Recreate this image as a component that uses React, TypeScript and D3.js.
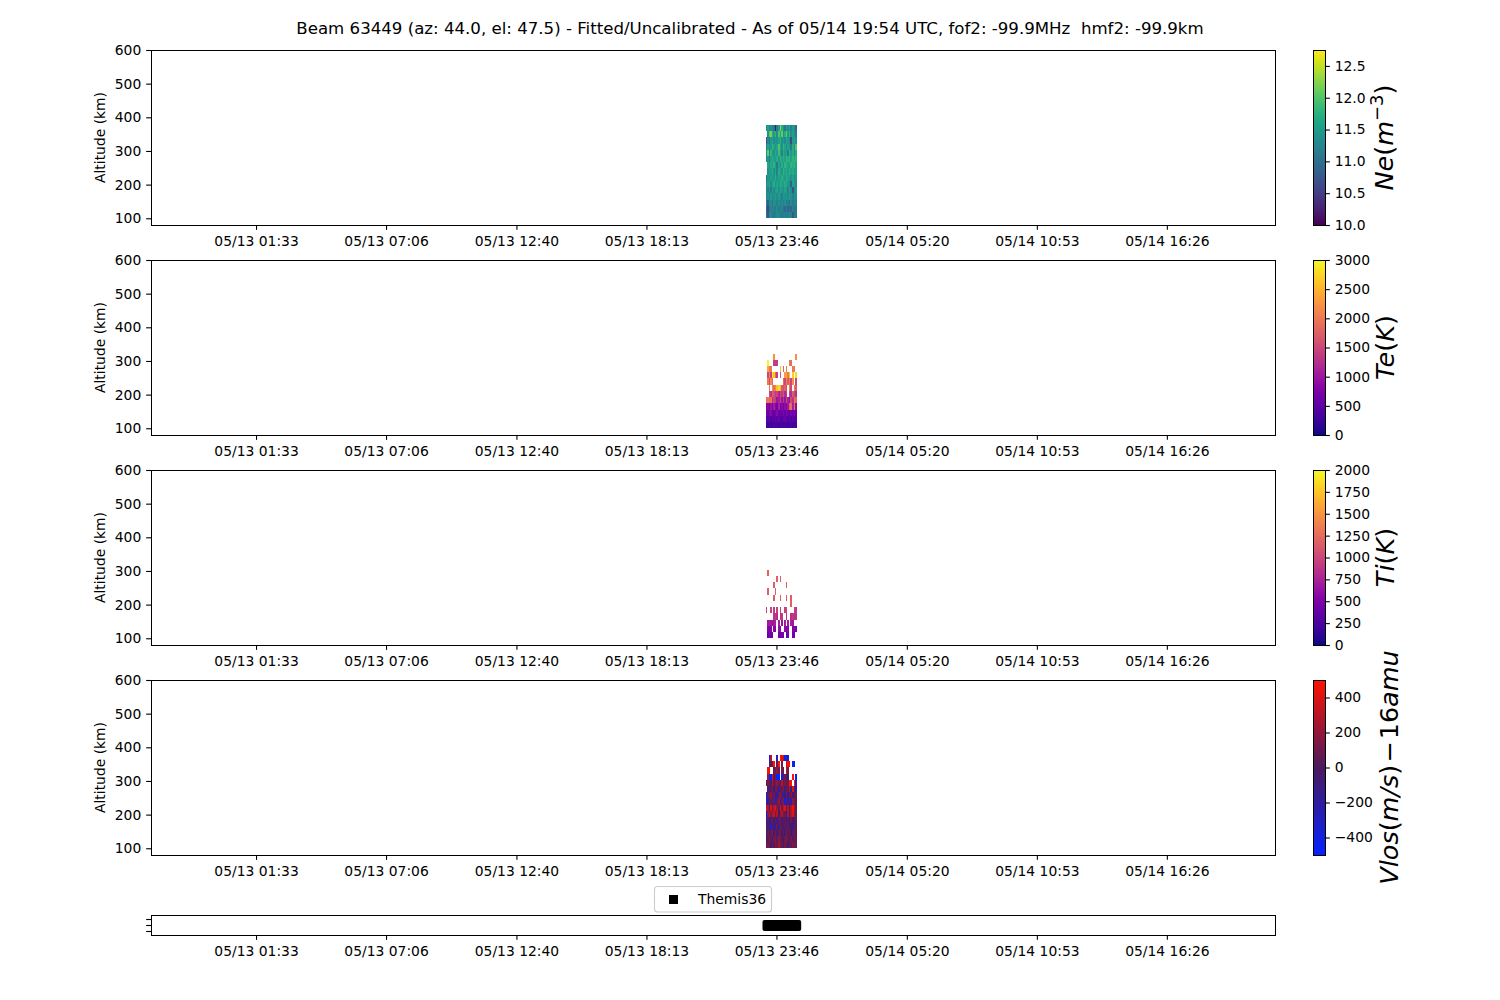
import { useEffect, useRef } from 'react';
import * as d3 from 'd3';

const _ = null;

const title = 'Beam 63449 (az: 44.0, el: 47.5) - Fitted/Uncalibrated - As of 05/14 19:54 UTC, fof2: -99.9MHz  hmf2: -99.9km';

const timeStart = '2021-05-12T21:04:00Z';
const timeEnd = '2021-05-14T21:03:00Z';
const timeTicks = [
    '2021-05-13T01:33:00Z', '2021-05-13T07:06:00Z', '2021-05-13T12:40:00Z', '2021-05-13T18:13:00Z',
    '2021-05-13T23:46:00Z', '2021-05-14T05:20:00Z', '2021-05-14T10:53:00Z', '2021-05-14T16:26:00Z',
];
const altTicks = [100, 200, 300, 400, 500, 600];

// column edges of the measurement window
const cellTimes = [
    '2021-05-13T23:18:00Z', '2021-05-13T23:22:00Z', '2021-05-13T23:26:00Z', '2021-05-13T23:30:00Z',
    '2021-05-13T23:34:00Z', '2021-05-13T23:38:00Z', '2021-05-13T23:42:00Z', '2021-05-13T23:46:00Z',
    '2021-05-13T23:50:00Z', '2021-05-13T23:54:00Z', '2021-05-13T23:58:00Z', '2021-05-14T00:02:00Z',
    '2021-05-14T00:06:00Z', '2021-05-14T00:10:00Z', '2021-05-14T00:14:00Z', '2021-05-14T00:18:00Z',
    '2021-05-14T00:22:00Z', '2021-05-14T00:26:00Z', '2021-05-14T00:30:00Z', '2021-05-14T00:34:00Z',
    '2021-05-14T00:38:00Z',
];
// row edges, km
const cellAlts = [100, 118.5, 137, 155.5, 174, 192.5, 211, 229.5, 248, 266.5, 285, 303.5, 322, 340.5, 359, 377.5];

// rows run bottom to top
const neValues = [
    [11.1, 10.7, 11.2, 11.3, 11.1, 11.1, 11.2, 11.3, 11.3, 11.2, 11.1, 11.2, 11.2, 11.1, 11.2, 11.3, 11.2, 10.7, 11.2, 11.1],
    [11.0, 10.6, 11.1, 11.2, 11.3, 11.2, 11.1, 11.3, 11.1, 11.3, 11.2, 11.1, 10.9, 11.2, 10.9, 11.0, 10.9, 11.2, 11.0, 11.1],
    [11.2, 10.8, 11.3, 11.3, 11.1, 11.4, 11.3, 11.2, 11.4, 11.2, 11.3, 11.2, 11.4, 11.1, 11.2, 11.0, 11.3, 11.1, 11.3, 11.2],
    [11.3, 11.4, 11.2, 11.5, 11.3, 11.4, 11.5, 11.3, 11.5, 11.4, 11.2, 11.5, 11.4, 11.4, 11.3, 11.5, 11.4, 11.2, 11.4, 11.3],
    [11.4, 11.2, 11.5, 11.1, 11.6, 11.3, 11.5, 11.6, 11.4, 11.6, 11.5, 11.3, 11.6, 11.5, 11.2, 11.6, 11.3, 10.7, 11.4, 11.5],
    [11.4, 11.5, 11.6, 11.3, 11.5, 11.7, 11.4, 11.6, 11.5, 11.7, 11.6, 11.5, 11.7, 11.6, 11.5, 11.4, 10.8, 11.6, 11.5, 11.3],
    [11.0, 11.5, 11.3, 11.6, 11.4, 11.5, 11.7, 11.4, 11.6, 11.5, 11.7, 11.6, 11.5, 11.7, 11.6, 11.5, 11.4, 11.6, 11.3, 11.5],
    [_, 11.4, 11.6, 11.5, 11.7, 11.4, 11.6, 11.2, 11.7, 11.6, 11.4, 11.8, 11.6, 11.7, 11.5, 11.8, 11.6, 11.7, 11.5, 11.6],
    [_, 11.6, 11.4, 11.7, 11.5, 11.8, 11.5, 11.1, 11.6, 11.4, 11.7, 11.5, 11.8, 11.7, 11.6, 11.5, 11.8, 11.7, 11.8, 11.6],
    [11.3, 11.5, 11.1, 11.6, 11.7, 11.6, 11.5, 11.7, 11.5, 11.8, 11.6, 11.7, 11.6, 11.8, 11.7, 11.8, 11.6, 11.8, 11.7, 11.8],
    [11.4, 12.1, 11.3, 11.8, 11.5, 11.4, 11.7, 11.5, 11.9, 11.6, 11.2, 11.7, 11.5, 11.6, 11.1, 11.8, 11.5, 11.7, 11.4, 11.7],
    [11.2, 11.6, 11.4, 11.5, 11.8, 11.6, 11.4, 11.6, 12.0, 11.5, 11.4, 11.8, 11.6, 11.4, 11.6, 11.5, 11.1, 11.7, 11.3, 12.0],
    [10.7, 11.3, 11.1, 11.5, 11.6, 11.3, 11.5, 11.4, 11.6, 11.7, 11.4, 11.5, 11.3, 11.6, 11.5, 11.4, 10.6, 11.5, 11.6, 11.4],
    [_, 11.4, 12.1, 12.2, 11.7, 11.5, 11.8, 11.3, 12.0, 11.6, 12.1, 11.4, 11.7, 12.1, 11.5, 11.8, 11.4, 11.6, 11.3, 11.2],
    [11.3, 11.6, 11.2, 11.4, 11.3, 11.1, 10.2, 11.2, 11.5, 12.3, 11.7, 11.4, 11.1, 11.5, 11.3, 11.6, 11.2, 11.5, 11.4, 11.0],
];
const teValues = [
    [320, 280, 380, 320, 280, 400, 330, 360, 280, 330, 380, 300, 330, 380, 280, 330, 360, 300, 330, 360],
    [520, 430, 580, 400, 540, 430, 590, 480, 620, 430, 400, 540, 620, 480, 420, 590, 430, 540, 480, 400],
    [700, 520, 780, 820, 560, 500, 680, 860, 540, 700, 600, 780, 540, 820, 620, 500, 720, 600, 780, 560],
    [800, 850, 640, 950, 780, 1050, 850, 700, 1100, 720, 850, 680, 900, 780, 1000, 1800, 1900, 1100, 1950, 900],
    [1900, 2000, 1850, 1950, 1300, 1500, 1400, 1000, 1100, 1400, 1000, 1300, 950, 1500, 1100, 950, 1500, 1300, 2000, 1800],
    [_, _, 1500, 1300, 1750, 1600, 1350, 1500, 1150, 1500, 1350, 1600, 1200, 1350, _, 1500, 1250, 1700, 1500, 1250],
    [_, _, 2000, _, 2200, 1900, 2100, 2600, 2800, 2500, 1700, 1600, 1800, 1500, _, 2000, 1500, _, 2000, 1700],
    [_, 2000, 1500, 2200, 1800, _, _, _, _, _, _, 1900, 1500, 2100, 1700, 2000, 1500, 2200, _, 1500],
    [_, 1500, 2100, 1400, 2900, 2600, 1900, 1400, _, 1600, _, _, 2300, 2400, 2000, 2600, _, 2700, _, 2800],
    [_, 2400, 2000, 2000, _, _, _, _, _, 2600, _, 1800, _, 2000, _, _, _, 2000, 2000, _],
    [_, 3000, _, _, _, 1400, 1400, 1400, _, _, _, _, _, _, _, 2000, 1900, _, _, _],
    [_, _, _, _, _, 2200, _, _, _, _, _, _, _, _, _, _, _, _, _, 2200],
];
const tiValues = [
    [_, 420, 500, 450, 430, _, _, _, 450, 430, 480, 440, _, 420, 460, _, _, 430, 470, _],
    [_, 520, 480, 540, _, 560, 540, _, 600, 540, _, _, 580, 520, 550, _, _, 520, 540, 500],
    [_, 680, 720, 700, 650, 690, 740, _, 710, _, 660, _, 700, _, 690, _, 740, 680, _, _],
    [_, _, _, _, _, 880, 900, 820, _, 860, 900, _, _, 870, _, _, 840, 900, 850, 880],
    [950, _, _, 980, _, 920, _, 950, _, 930, _, _, 960, 1000, _, _, _, _, 940, 920],
    [_, _, _, _, _, _, _, _, _, _, _, _, _, _, _, _, 1180, _, _, _],
    [_, _, _, _, _, 1150, _, _, _, 1180, _, _, _, 1170, _, _, 1160, _, _, _],
    [_, 1180, _, _, _, _, 1140, _, _, _, _, _, _, _, _, _, _, _, _, _],
    [_, _, _, _, _, 1160, _, _, _, _, _, _, _, 1180, _, _, _, _, _, _],
    [_, _, _, _, _, _, _, 1170, _, 1150, _, _, _, _, _, _, _, _, _, _],
    [_, 1190, _, _, _, _, _, _, _, _, _, _, _, _, _, _, _, _, _, _],
];
const vlosValues = [
    [60, 120, 80, -40, 100, 40, 130, 90, 200, 160, 60, -30, 110, 70, -60, 100, 50, 130, 80, 110],
    [-60, 40, 120, 80, -120, 100, 150, 60, 170, 120, 40, -80, 100, 140, 60, -40, 120, 30, 90, 60],
    [-80, 100, -60, 90, 160, -40, 120, -100, 60, 130, -40, 80, -60, 150, 40, 100, -90, 60, 120, 40],
    [-60, 40, -120, -300, 60, -200, -60, 80, -100, 100, 40, -150, 60, -250, 80, 40, -60, -100, 60, 40],
    [-150, 60, -200, 40, 100, -100, 60, -120, 80, 120, -80, 60, 40, -100, 60, -150, 100, -60, 40, 60],
    [-400, 200, 300, 150, 260, 350, 100, 300, -60, 200, 300, 120, 90, -100, 300, -40, 250, 400, 160, 80],
    [400, 300, -80, 400, 100, 300, 450, 200, 60, 420, 100, 300, 400, 60, 300, -40, 300, 450, 200, 80],
    [-300, -200, 60, 100, -300, 100, -350, 60, 200, -300, 100, 150, -350, 60, -350, 100, -250, 200, 100, 60],
    [-450, 100, 60, 200, -100, 120, -60, -300, 100, 200, 60, -350, -60, 160, -200, 60, 120, -60, 60, 80],
    [_, 60, -200, 60, 120, -60, 100, 80, -200, 120, 60, 160, -100, 60, 80, 300, -100, 400, 60, -200],
    [60, 150, 100, -100, 300, 60, 120, 200, 100, 60, 300, 80, 120, 60, 100, 450, 500, _, 500, -400],
    [_, 200, -480, -450, 400, 60, 100, -500, -480, _, -450, 60, 120, -100, -80, _, _, 500, _, -450],
    [_, 500, 450, _, _, 60, 100, 200, 60, _, 120, 60, _, 300, 100, _, _, _, _, _],
    [_, _, -120, 60, 100, 500, _, 60, 500, _, 100, _, _, 300, 500, 450, _, -480, -450, _],
    [_, _, -480, 300, _, _, _, -250, _, 500, 450, 300, -480, -350, -300, _, _, _, _, _],
];
const themisTimes = cellTimes.slice(0, 20);

const neTicks = [10, 10.5, 11, 11.5, 12, 12.5];
const teTicks = [0, 500, 1000, 1500, 2000, 2500, 3000];
const tiTicks = [0, 250, 500, 750, 1000, 1250, 1500, 1750, 2000];
const vlosTicks = [-400, -200, 0, 200, 400];

const vlosColors = d3.scaleLinear<string>()
    .domain([-500, 0, 500])
    .range(['#0522ff', '#4a1a5e', '#ff1200']);

const panels = [
    { top: 50, values: neValues, ticks: neTicks, domain: [10, 12.75], color: (v: number) => d3.interpolateViridis((v - 10) / 2.75), fmt: d3.format('.1f'), labelX: 1393 },
    { top: 260, values: teValues, ticks: teTicks, domain: [0, 3000], color: (v: number) => d3.interpolatePlasma(v / 3000), fmt: d3.format('d'), labelX: 1394 },
    { top: 470, values: tiValues, ticks: tiTicks, domain: [0, 2000], color: (v: number) => d3.interpolatePlasma(v / 2000), fmt: d3.format('d'), labelX: 1394 },
    { top: 680, values: vlosValues, ticks: vlosTicks, domain: [-500, 500], color: (v: number) => vlosColors(v), fmt: (v: number) => String(v).replace('-', '\u2212'), labelX: 1398 },
];

const font = '"DejaVu Sans"';
const tickSize = 4.86;

const App = () => {
    const svgRef = useRef<SVGSVGElement>(null);

    useEffect(() => {
        if (!svgRef.current) return;
        const svg = d3.select(svgRef.current);
        svg.selectAll('*').remove();
        svg.attr('font-family', font);

        const left = 151, right = 1275, panelH = 175;

        const x = d3.scaleUtc()
            .domain([new Date(timeStart), new Date(timeEnd)])
            .range([left, right]);

        const tickDates = timeTicks.map(d => new Date(d));
        const xAxis = d3.axisBottom<Date>(x as any)
            .tickValues(tickDates)
            .tickFormat(d3.utcFormat('%m/%d %H:%M') as any)
            .tickSize(tickSize)
            .tickPadding(5.86)
            .tickSizeOuter(0);

        const styleAxis = (g: any) => {
            g.attr('font-family', font).attr('font-size', 13.89);
            g.selectAll('.domain').remove();
            g.selectAll('line').attr('stroke', '#000').attr('stroke-width', 1.1);
            g.selectAll('text').attr('fill', '#000');
        };

        const frame = (fx: number, fy: number, w: number, h: number) => {
            svg.append('rect')
                .attr('x', fx + 0.5).attr('y', fy + 0.5)
                .attr('width', w).attr('height', h)
                .attr('fill', 'none').attr('stroke', '#000').attr('stroke-width', 1.1)
                .attr('shape-rendering', 'crispEdges');
        };

        svg.append('text')
            .attr('x', 750)
            .attr('y', 34)
            .attr('text-anchor', 'middle')
            .attr('font-size', 16.63)
            .style('white-space', 'pre')
            .text(title);

        panels.forEach((p, idx) => {
            const bottom = p.top + panelH;
            const y = d3.scaleLinear().domain([80, 600]).range([bottom, p.top]);

            // Cells
            p.values.forEach((row, i) => {
                row.forEach((v, j) => {
                    if (v === null) return;
                    const x0 = x(new Date(cellTimes[j]));
                    const x1 = x(new Date(cellTimes[j + 1]));
                    svg.append('rect')
                        .attr('x', x0)
                        .attr('y', y(cellAlts[i + 1]))
                        .attr('width', x1 - x0)
                        .attr('height', y(cellAlts[i]) - y(cellAlts[i + 1]))
                        .attr('fill', p.color(v))
                        .attr('shape-rendering', 'crispEdges');
                });
            });

            frame(left, p.top, right - left, panelH);

            svg.append('g')
                .attr('transform', `translate(0,${bottom})`)
                .call(xAxis as any)
                .call(styleAxis);

            svg.append('g')
                .attr('transform', `translate(${left},0)`)
                .call(d3.axisLeft(y).tickValues(altTicks).tickSize(tickSize).tickPadding(4.86).tickSizeOuter(0))
                .call(styleAxis);

            svg.append('text')
                .attr('transform', `translate(105,${p.top + panelH / 2}) rotate(-90)`)
                .attr('text-anchor', 'middle')
                .attr('font-size', 13.89)
                .text('Altitude (km)');

            // Colorbar
            const cbLeft = 1313, cbRight = 1325;
            const c = d3.scaleLinear().domain(p.domain).range([bottom, p.top]);
            d3.range(p.top, bottom).forEach(py => {
                svg.append('rect')
                    .attr('x', cbLeft).attr('y', py)
                    .attr('width', cbRight - cbLeft).attr('height', 1.2)
                    .attr('fill', p.color(c.invert(py + 0.5)))
                    .attr('shape-rendering', 'crispEdges');
            });
            frame(cbLeft, p.top, cbRight - cbLeft, panelH);
            svg.append('g')
                .attr('transform', `translate(${cbRight},0)`)
                .call(d3.axisRight(c).tickValues(p.ticks).tickFormat(p.fmt as any).tickSize(tickSize).tickPadding(4.86).tickSizeOuter(0))
                .call(styleAxis);

            // Colorbar label
            const label = svg.append('text')
                .attr('transform', `translate(${p.labelX},${p.top + panelH / 2}) rotate(-90)`)
                .attr('text-anchor', 'middle')
                .attr('font-size', 25.5);
            if (idx === 0) {
                label.append('tspan').attr('font-style', 'italic').text('Ne');
                label.append('tspan').text('(');
                label.append('tspan').attr('font-style', 'italic').text('m');
                label.append('tspan').attr('font-size', 18).attr('dy', -10).text('\u22123');
                label.append('tspan').attr('dy', 10).text(')');
            } else if (idx === 1 || idx === 2) {
                label.append('tspan').attr('font-style', 'italic').text(idx === 1 ? 'Te' : 'Ti');
                label.append('tspan').text('(');
                label.append('tspan').attr('font-style', 'italic').text('K');
                label.append('tspan').text(')');
            } else {
                label.append('tspan').attr('font-style', 'italic').text('Vlos');
                label.append('tspan').text('(');
                label.append('tspan').attr('font-style', 'italic').text('m/s');
                label.append('tspan').text(')');
                label.append('tspan').attr('dx', 2).text('\u2212');
                label.append('tspan').attr('dx', 2).text('16');
                label.append('tspan').attr('font-style', 'italic').text('amu');
            }
        });

        // Satellite pass strip
        const stripTop = 915, stripBottom = 935;
        const yStrip = d3.scaleLinear().domain([-1.667, 1.667]).range([stripBottom, stripTop]);

        svg.selectAll('.themis')
            .data(themisTimes)
            .enter()
            .append('rect')
            .attr('class', 'themis')
            .attr('x', d => x(new Date(d)) - 3)
            .attr('y', yStrip(0) - 5)
            .attr('width', 9)
            .attr('height', 11)
            .attr('rx', 2)
            .attr('fill', '#000');

        frame(left, stripTop, right - left, stripBottom - stripTop);

        svg.append('g')
            .attr('transform', `translate(0,${stripBottom})`)
            .call(xAxis as any)
            .call(styleAxis);

        svg.append('g')
            .attr('transform', `translate(${left},0)`)
            .call(d3.axisLeft(yStrip).tickValues([-1, 0, 1]).tickFormat(() => '').tickSize(tickSize).tickSizeOuter(0))
            .call(styleAxis);

        // Legend
        svg.append('rect')
            .attr('x', 654.5).attr('y', 886.5)
            .attr('width', 117).attr('height', 25.5)
            .attr('rx', 3)
            .attr('fill', '#fff').attr('fill-opacity', 0.8)
            .attr('stroke', '#ccc').attr('stroke-width', 1.1);
        svg.append('rect')
            .attr('x', 669).attr('y', 895)
            .attr('width', 9).attr('height', 9)
            .attr('fill', '#000');
        svg.append('text')
            .attr('x', 698).attr('y', 904)
            .attr('font-size', 13.89)
            .text('Themis36');
    }, []);

    return <svg ref={svgRef} width={1500} height={1000} style={{ position: 'absolute', left: 0, top: 0, background: '#fff' }} />;
};

export default App;
